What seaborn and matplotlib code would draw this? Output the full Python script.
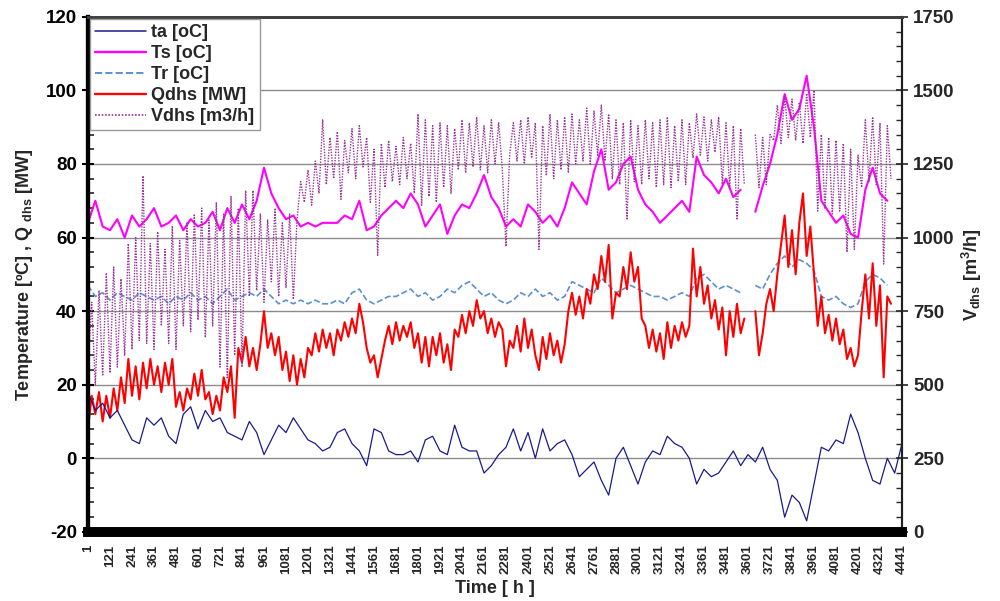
import numpy as np
import pandas as pd
import matplotlib
matplotlib.use("Agg")
import matplotlib.pyplot as plt
from matplotlib.lines import Line2D
from matplotlib.ticker import MultipleLocator
import seaborn as sns

nan = np.nan

hours = np.arange(1, 4442, 40)
hours_fine = np.arange(1, 4442, 20)

ta = [18, 13, 15, 11, 13, 9, 5, 4, 11, 9, 11, 6, 4, 12, 14, 8, 13, 10, 11, 7,
      6, 5, 10, 7, 1, 5, 9, 7, 11, 8, 5, 4, 2, 3, 7, 8, 4, 2, -2, 8,
      7, 2, 1, 1, 2, -1, 5, 6, 2, 1, 9, 3, 2, 2, -4, -2, 1, 3, 8, 2,
      7, 0, 8, 2, 4, 5, 1, -5, -3, -1, -6, -10, 0, 3, -2, -7, -1, 2, 1, 6,
      4, 3, 0, -7, -3, -5, -4, -1, 2, -2, 1, -1, 3, -3, -6, -16, -10, -12, -17, -7,
      3, 2, 5, 4, 12, 7, 0, -6, -7, 0, -4, 4]

Ts = [64, 70, 63, 62, 65, 60, 66, 63, 65, 68, 63, 64, 66, 62, 65, 63, 64, 67, 62, 68,
      64, 69, 65, 70, 79, 72, 68, 65, 66, 63, 64, 63, 64, 64, 64, 66, 65, 70, 62, 63,
      66, 68, 70, 68, 72, 69, 63, 66, 69, 61, 66, 69, 68, 72, 77, 71, 68, 63, 65, 63,
      69, 67, 64, 66, 63, 68, 75, 72, 69, 78, 84, 73, 75, 80, 82, 73, 69, 67, 64, 66,
      68, 70, 67, 82, 77, 75, 72, 76, 71, 73, nan, 67, 74, 80, 88, 99, 92, 95, 104, 90,
      70, 67, 64, 66, 61, 60, 73, 79, 72, 70, nan, nan]

Tr = [47, 44, 45, 43, 45, 44, 43, 45, 44, 43, 44, 42, 44, 43, 45, 43, 44, 42, 44, 46,
      43, 44, 45, 44, 46, 44, 42, 43, 42, 43, 42, 43, 42, 42, 43, 42, 45, 46, 43, 42,
      43, 44, 44, 45, 46, 44, 45, 43, 44, 46, 45, 47, 48, 46, 44, 45, 43, 42, 43, 45,
      44, 46, 44, 45, 43, 44, 48, 47, 46, 45, 49, 47, 45, 46, 47, 46, 45, 44, 44, 43,
      44, 45, 44, 49, 50, 48, 46, 47, 46, 45, nan, 47, 46, 50, 53, 55, 52, 54, 53, 51,
      44, 43, 44, 42, 41, 42, 48, 50, 49, 47, nan, nan]

Qdhs = [8, 17, 12, 18, 10, 17, 11, 19, 13, 22, 15, 27, 17, 25, 16, 26, 19, 27, 20, 25,
        18, 26, 20, 27, 14, 18, 13, 19, 16, 23, 17, 24, 16, 18, 12, 17, 13, 22, 18, 25,
        11, 30, 26, 33, 25, 30, 24, 31, 40, 30, 34, 28, 33, 24, 29, 21, 28, 20, 27, 22,
        30, 28, 34, 29, 35, 30, 34, 28, 35, 32, 37, 33, 38, 34, 42, 37, 30, 26, 28, 22,
        27, 32, 36, 31, 37, 32, 36, 33, 37, 30, 34, 26, 33, 25, 33, 28, 34, 26, 31, 24,
        35, 33, 39, 34, 40, 36, 43, 38, 40, 34, 38, 33, 37, 35, 25, 32, 30, 36, 29, 38,
        30, 35, 28, 24, 33, 27, 34, 28, 32, 26, 31, 40, 45, 39, 44, 38, 46, 42, 50, 46,
        55, 48, 58, 38, 45, 44, 52, 46, 56, 48, 52, 38, 36, 30, 35, 29, 34, 27, 37, 30,
        36, 32, 37, 33, 36, 57, 44, 52, 42, 47, 38, 43, 35, 41, 28, 40, 33, 42, 34, 38,
        nan, nan, 40, 28, 34, 42, 46, 40, 50, 58, 66, 52, 62, 50, 64, 72, 55, 63, 50, 36,
        44, 34, 39, 32, 38, 31, 35, 27, 30, 25, 28, 40, 50, 38, 53, 36, 47, 22, 44, 42,
        nan, nan, nan]

Vdhs = [560, 780, 500, 820, 530, 880, 540, 900, 560, 860, 600, 980, 620, 1000, 650, 1210, 640, 980, 620, 1020,
        700, 960, 640, 1040, 620, 990, 700, 1050, 680, 1080, 720, 1100, 660, 1060, 700, 1120, 560, 1080, 520, 1140,
        600, 1100, 560, 1160, 800, 1160, 820, 1080, 780, 1060, 850, 1100, 800, 1050, 830, 1080, 790, 1060, 1190, 1120,
        1230, 1110, 1260, 1150, 1400, 1180, 1340, 1200, 1360, 1130, 1330, 1220, 1370, 1200, 1380, 1240, 1340, 1120, 1300, 940,
        1320, 1170, 1330, 1190, 1310, 1180, 1340, 1200, 1320, 1150, 1420, 1110, 1400, 1140, 1380, 1120, 1390, 1170, 1380, 1150,
        1370, 1230, 1400, 1220, 1390, 1240, 1410, 1230, 1380, 1220, 1400, 1250, 1390, 1230, 970, 1280, 1390, 1260, 1400, 1250,
        1410, 1270, 1390, 960, 1380, 1210, 1420, 1200, 1400, 1230, 1410, 1220, 1420, 1250, 1400, 1260, 1440, 1250, 1430, 1280,
        1450, 1260, 1420, 1200, 1400, 1180, 1390, 1060, 1400, 1190, 1380, 1180, 1400, 1200, 1390, 1170, 1400, 1180, 1410, 1170,
        1380, 1190, 1400, 1180, 1390, 1270, 1420, 1280, 1410, 1260, 1400, 1290, 1410, 1180, 1390, 1170, 1380, 1060, 1370, 1180,
        nan, nan, 1350, 1170, 1340, 1180, 1350, 1330, 1450, 1320, 1480, 1340, 1470, 1330, 1460, 1320, 1490, 1340, 1500, 1090,
        1350, 1100, 1340, 1080, 1330, 1090, 1320, 950, 1300, 960, 1280, 1170, 1400, 1190, 1410, 1180, 1390, 910, 1380, 1200,
        nan, nan, nan]

xtick_labels = list(range(1, 4442, 120))

sns.set_theme(style="white")
plt.rcParams["font.family"] = ["Liberation Sans", "DejaVu Sans"]
plt.rcParams["font.weight"] = "bold"
plt.rcParams["axes.unicode_minus"] = False
plt.rcParams["mathtext.fontset"] = "custom"
plt.rcParams["mathtext.rm"] = "Liberation Sans"
plt.rcParams["mathtext.bf"] = "Liberation Sans:bold"


def make_df(x, values):
    d = pd.DataFrame({"h": x, "v": np.array(values, dtype=float)})
    d["seg"] = d["v"].isna().cumsum()
    return d


fig = plt.figure(figsize=(10, 6.01), dpi=100)
ax = fig.add_axes([0.088, 0.115, 0.814, 0.857])
ax2 = ax.twinx()

styles = {
    "ta [oC]": dict(color="#1a1a8c", lw=0.9, ls="-"),
    "Ts [oC]": dict(color="#ff00ff", lw=1.5, ls="-"),
    "Tr [oC]": dict(color="#5b8fd0", lw=1.2, ls="--"),
    "Qdhs [MW]": dict(color="#ff0000", lw=1.5, ls="-"),
    "Vdhs [m3/h]": dict(color="#993399", lw=1.0, ls=(0, (1, 1))),
}

series = [("Tr [oC]", hours, Tr), ("Ts [oC]", hours, Ts),
          ("Qdhs [MW]", hours_fine, Qdhs), ("ta [oC]", hours, ta)]
for name, x, vals in series:
    st = styles[name]
    sns.lineplot(data=make_df(x, vals), x="h", y="v", units="seg", estimator=None,
                 color=st["color"], linewidth=st["lw"], linestyle=st["ls"], ax=ax)

st = styles["Vdhs [m3/h]"]
sns.lineplot(data=make_df(hours_fine, Vdhs), x="h", y="v", units="seg", estimator=None,
             color=st["color"], linewidth=st["lw"], linestyle=st["ls"], ax=ax2)

# linke Achse
ax.set_xlim(1, 4441)
ax.set_ylim(-20, 120)
ax.yaxis.set_major_locator(MultipleLocator(20))
ax.yaxis.set_minor_locator(MultipleLocator(4))
ax.grid(axis="y", color="#8c8c8c", lw=1.0)
ax.set_xticks(xtick_labels)
ax.set_xticklabels([str(t) for t in xtick_labels], rotation=90, fontsize=9.5, fontweight="bold")
ax.tick_params(axis="x", length=0, pad=9)
ax.tick_params(axis="y", which="major", direction="inout", length=9, width=1.5,
               labelsize=13.5, colors="black")
ax.tick_params(axis="y", which="minor", direction="in", length=4, width=1.2, left=True)
for lbl in ax.get_yticklabels():
    lbl.set_fontweight("bold")

ax.set_xlabel("Time [ h ]", fontsize=13, fontweight="bold", labelpad=4)
ax.set_ylabel(r"Temperature [ºC] , Q $_{\rm dhs}$ [MW]", fontsize=13, fontweight="bold", labelpad=8)

# rechte Achse
ax2.set_ylim(0, 1750)
ax2.yaxis.set_major_locator(MultipleLocator(250))
ax2.yaxis.set_minor_locator(MultipleLocator(50))
ax2.tick_params(axis="y", which="major", direction="inout", length=9, width=1.2, labelsize=13.5)
ax2.tick_params(axis="y", which="minor", direction="in", length=4, width=1.0, right=True)
for lbl in ax2.get_yticklabels():
    lbl.set_fontweight("bold")
ax2.set_ylabel(r"V$_{\rm dhs}$ [m$^3$/h]", fontsize=13, fontweight="bold", labelpad=4)
ax2.set_xlabel("")

for a in (ax, ax2):
    a.spines["left"].set_linewidth(3)
    a.spines["left"].set_color("black")
    a.spines["top"].set_linewidth(2)
    a.spines["top"].set_color("#404040")
    a.spines["right"].set_linewidth(1.5)
    a.spines["right"].set_color("#202020")
    a.spines["bottom"].set_linewidth(7)
    a.spines["bottom"].set_color("black")

handles = [Line2D([], [], color=st["color"], lw=st["lw"] + 0.2, ls=st["ls"]) for st in styles.values()]
leg = ax2.legend(handles, list(styles.keys()), loc="upper left", bbox_to_anchor=(0.0, 1.0),
                 frameon=True, fancybox=False, framealpha=1, edgecolor="#999999",
                 prop={"weight": "bold", "size": 13}, handlelength=2.8, handletextpad=0.3,
                 labelspacing=0.22, borderpad=0.3, borderaxespad=0.1)
leg.get_frame().set_linewidth(1.0)

fig.savefig("out.png", dpi=100)
